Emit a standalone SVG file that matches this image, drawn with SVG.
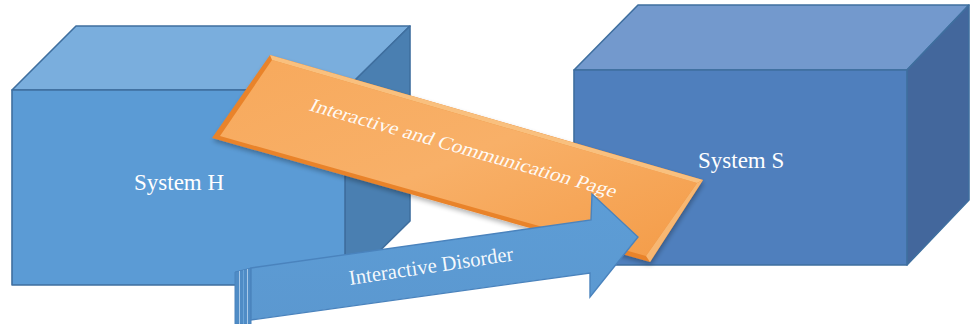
<svg xmlns="http://www.w3.org/2000/svg" width="972" height="324" viewBox="0 0 972 324">
<defs>
<style>
.edge{stroke:#3f6f9f;stroke-width:1.6;stroke-linejoin:round}
.lbl{font-family:"Liberation Serif","Times New Roman",serif;fill:#ffffff}
</style>
<linearGradient id="og" x1="0" y1="0" x2="1" y2="1">
<stop offset="0" stop-color="#f7a95c"/>
<stop offset="0.5" stop-color="#f8b068"/>
<stop offset="1" stop-color="#f49c48"/>
</linearGradient>
<linearGradient id="ag" x1="0" y1="0" x2="0" y2="1">
<stop offset="0" stop-color="#5d9dd6"/>
<stop offset="1" stop-color="#5b98d0"/>
</linearGradient>
<filter id="sh" x="-10%" y="-10%" width="130%" height="140%">
<feGaussianBlur in="SourceAlpha" stdDeviation="2.5"/>
<feOffset dx="1" dy="3" result="b"/>
<feComponentTransfer><feFuncA type="linear" slope="0.3"/></feComponentTransfer>
<feMerge><feMergeNode/><feMergeNode in="SourceGraphic"/></feMerge>
</filter>
</defs>
<rect width="972" height="324" fill="#ffffff"/>

<g id="system-h">
<polygon class="edge" points="12,90 76,26 410,26 345,90" fill="#7aaedd"/>
<polygon class="edge" points="345,90 410,26 410,221 345,285" fill="#4a7fb1"/>
<polygon class="edge" points="12,90 345,90 345,285 12,285" fill="#5b9bd5"/>
<text class="lbl" x="134" y="190" font-size="23">System H</text>
</g>

<g id="system-s">
<polygon class="edge" points="574,70 638,5 969,5 907,70" fill="#7399cd"/>
<polygon class="edge" points="907,70 969,5 969,200 907,265" fill="#43679c"/>
<polygon class="edge" points="574,70 907,70 907,265 574,265" fill="#4f7fbd"/>
<text class="lbl" x="698" y="168" font-size="23">System S</text>
</g>

<g id="page">
<polygon points="270,55 703,180 650,262 212,138" fill="#e9832c" filter="url(#sh)"/>
<polygon points="272,60 697,183 646,256 220,136" fill="url(#og)"/>
<polygon points="270,55 703,180 697,183 272,60" fill="#f9c07e"/>
<polygon points="703,180 650,262 646,256 697,183" fill="#f7b772"/>
<text class="lbl" font-size="19" transform="translate(308,110) rotate(16) skewX(-12)" textLength="318" lengthAdjust="spacingAndGlyphs" fill-opacity="0.95">Interactive and Communication Page</text>
</g>

<g id="connectors">
<g id="interactive-disorder">
<polygon points="235,272 251,268 251,324 235,324" fill="#4f8cc6" stroke="#4a83bd" stroke-width="1"/>
<line x1="239.5" y1="271" x2="239.5" y2="324" stroke="#a9c9e8" stroke-width="1"/>
<line x1="243.5" y1="270" x2="243.5" y2="324" stroke="#6aa4d8" stroke-width="1"/>
<line x1="247.5" y1="269" x2="247.5" y2="324" stroke="#a9c9e8" stroke-width="1"/>
<polygon points="251,268 591,220 592,194 638,237 590,297 590,273 251,320" fill="url(#ag)" stroke="#4a83bd" stroke-width="1.4" stroke-linejoin="miter"/>
<text class="lbl" font-size="21" transform="translate(350,285) rotate(-8.5)" textLength="166" lengthAdjust="spacingAndGlyphs" fill-opacity="0.95">Interactive Disorder</text>
</g>
</g>
</svg>
